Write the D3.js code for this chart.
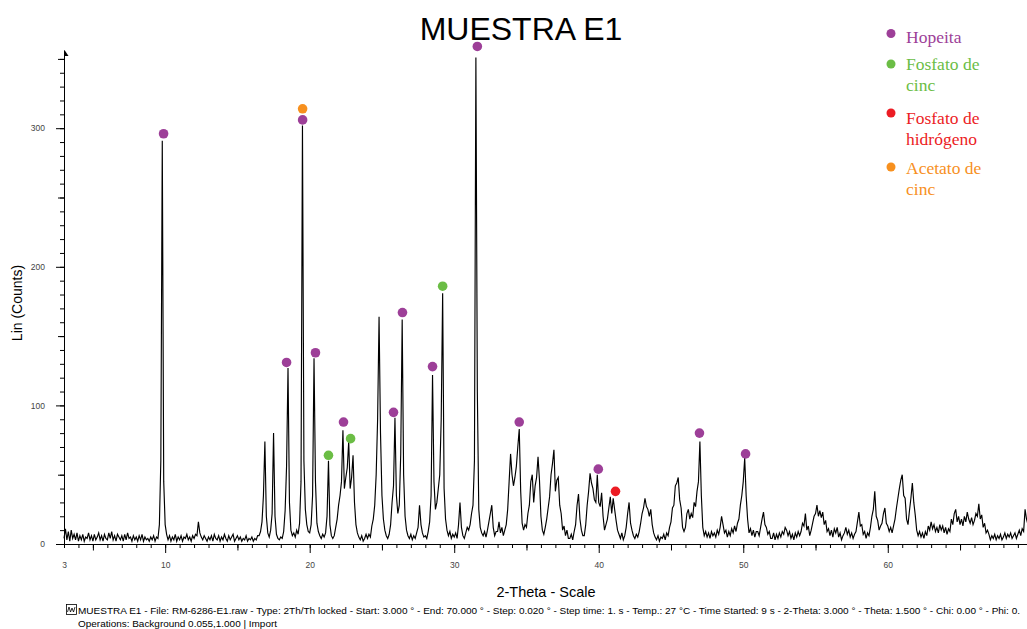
<!DOCTYPE html>
<html>
<head>
<meta charset="utf-8">
<script src="https://cdn.jsdelivr.net/npm/d3@7"></script>
<style>
  body { margin: 0; background: #fff; }
  svg { display: block; }
</style>
</head>
<body>
<div id="chart"></div>
<script>
// scan settings (2-Theta start and step of the counts array below)
var scanStart = 3.0;
var scanStep = 0.1;

// Lin (Counts), one row per degree 2-Theta
var counts = [
  4,11,3,9,2,10,4,7,3,8,        // 3
  2,6,3,7,2,5,4,8,3,6,          // 4
  2,7,3,5,8,3,6,2,7,4,          // 5
  3,8,4,9,3,6,2,7,5,3,          // 6
  6,2,7,3,8,4,5,2,6,3,          // 7
  5,2,6,3,7,2,5,3,4,2,          // 8
  5,3,6,2,5,4,14,60,291,45,     // 9
  14,7,3,6,2,5,3,7,2,5,         // 10
  3,6,2,5,4,7,3,5,2,6,          // 11
  4,7,6,16,8,5,3,6,4,2,         // 12
  5,3,6,2,7,4,3,6,2,5,          // 13
  3,7,4,2,6,3,5,7,2,4,          // 14
  6,3,5,2,4,3,6,2,4,3,          // 15
  5,2,4,3,6,6,9,16,35,74,       // 16
  20,8,5,10,22,80,20,7,4,3,     // 17
  5,4,9,24,56,127,30,10,6,8,    // 18
  5,10,7,15,45,302,60,25,14,9,  // 19
  8,14,35,134,45,15,9,6,4,7,    // 20
  5,8,20,60,14,6,4,6,12,18,     // 21
  28,35,45,82,40,48,55,74,40,48, // 22
  64,30,14,8,5,3,6,2,4,7,       // 23
  4,7,5,13,18,28,50,90,164,80,  // 24
  35,18,10,6,4,7,14,30,42,91,   // 25
  35,22,28,65,162,50,20,10,6,4, // 26
  7,3,6,4,8,12,28,14,8,5,       // 27
  6,4,9,16,35,122,45,25,30,40,  // 28
  50,90,181,40,18,10,6,9,4,7,   // 29
  5,8,4,14,30,12,6,4,8,12,      // 30
  10,14,22,28,60,351,110,25,12,8, // 31
  6,9,5,10,16,22,28,12,6,9,     // 32
  9,16,8,12,6,10,14,25,45,65,   // 33
  50,42,48,56,70,83,38,15,10,14, // 34
  12,22,28,45,50,30,42,48,63,46, // 35
  20,10,7,12,18,26,34,50,58,68, // 36
  38,46,48,28,22,10,13,6,10,4,  // 37
  4,7,3,9,14,28,36,18,10,6,     // 38
  6,14,28,38,51,44,40,32,30,50, // 39
  30,27,37,20,10,14,18,26,34,22, // 40
  33,25,17,10,7,4,8,3,6,12,     // 41
  22,30,15,10,6,4,7,5,9,15,     // 42
  22,26,33,27,25,20,25,14,8,5,  // 43
  3,6,2,5,4,7,3,8,6,12,         // 44
  16,26,28,42,44,48,32,26,12,9, // 45
  12,22,25,18,22,19,30,27,38,45, // 46
  74,35,12,6,9,5,8,4,9,6,       // 47
  8,5,10,7,12,20,14,8,10,5,     // 48
  9,6,11,8,13,9,15,18,28,35,    // 49
  45,62,35,18,8,11,6,10,5,9,    // 50
  9,6,12,18,23,14,12,7,9,4,     // 51
  4,8,3,7,4,8,5,9,7,12,         // 52
  10,6,9,4,7,3,8,5,9,6,         // 53
  9,15,13,22,10,13,6,10,15,20,  // 54
  22,28,20,24,19,23,14,17,9,11, // 55
  6,10,5,11,8,12,5,8,3,6,       // 56
  8,12,7,10,5,8,4,7,9,16,       // 57
  23,13,14,7,9,4,8,6,12,20,     // 58
  25,38,20,17,10,13,15,22,26,15, // 59
  13,9,12,8,13,18,26,33,40,46,  // 60
  50,35,33,18,14,24,33,44,30,21, // 61
  10,6,9,5,8,4,9,6,13,10,       // 62
  16,11,14,9,12,8,14,10,13,8,   // 63
  12,7,11,9,18,14,22,25,16,20,  // 64
  14,18,13,20,16,23,18,15,19,14, // 65
  17,22,20,29,18,21,12,15,8,10, // 66
  7,3,6,4,7,3,6,4,7,3,          // 67
  5,8,4,7,5,8,4,6,8,4,          // 68
  7,10,6,11,9,25,18,14,12,10,   // 69
  8                             // 70
];

// identified phases
var phaseNames = [["Hopeita"], ["Fosfato de", "cinc"], ["Fosfato de", "hidrógeno"], ["Acetato de", "cinc"]];
var phaseColors = ["#9d3f98", "#6bbd45", "#ec1c24", "#f7901e"];

// peak markers: phase index, 2-Theta, counts
var markerPhase  = [0, 0, 0, 3, 0, 1, 0, 1, 0, 0, 0, 1, 0, 0, 0, 2, 0, 0];
var markerTheta  = [9.89, 18.40, 19.51, 19.51, 20.40, 21.30, 22.34, 22.83, 25.80, 26.42, 28.50, 29.20, 31.60, 34.50, 39.97, 41.16, 46.97, 50.16];
var markerCounts = [296, 131, 306, 314, 138, 64, 88, 76, 95, 167, 128, 186, 359, 88, 54, 38, 80, 65];

// axis ticks
var xTickLabels = [3, 10, 20, 30, 40, 50, 60];
var yTickLabels = [0, 100, 200, 300];

var footerLine1 = "MUESTRA E1 - File: RM-6286-E1.raw - Type: 2Th/Th locked - Start: 3.000 ° - End: 70.000 ° - Step: 0.020 ° - Step time: 1. s - Temp.: 27 °C - Time Started: 9 s - 2-Theta: 3.000 ° - Theta: 1.500 ° - Chi: 0.00 ° - Phi: 0.";
var footerLine2 = "Operations: Background 0.055,1.000 | Import";

var svgWidth = 1027;
var svgHeight = 629;
var margin = { top: 50, left: 64 };
var width = 968.3;
var height = 494;

var scan = counts.map(function(c, i) {
  return { theta: scanStart + i * scanStep, counts: c };
});

var svg = d3.select("#chart")
  .append("svg")
  .attr("width", svgWidth)
  .attr("height", svgHeight);

var chartGroup = svg.append("g")
  .attr("transform", `translate(${margin.left}, ${margin.top})`);

var xScale = d3.scaleLinear().domain([3, 70]).range([0, width]);
var yScale = d3.scaleLinear().domain([0, height / 1.386]).range([height, 0]);

var sans = "Arial, 'Liberation Sans', sans-serif";

// x axis: minor (1), medium (5), major (10) ticks
function tidy(g) {
  g.select(".domain").remove();
  g.selectAll("line").attr("stroke", "#000");
}
chartGroup.append("g")
  .attr("transform", `translate(0, ${height})`)
  .call(d3.axisBottom(xScale).tickValues(d3.range(3, 71, 1)).tickSize(4).tickFormat(""))
  .call(tidy);
chartGroup.append("g")
  .attr("transform", `translate(0, ${height})`)
  .call(d3.axisBottom(xScale).tickValues(d3.range(5, 70, 10)).tickSize(6.5).tickFormat(""))
  .call(tidy);
chartGroup.append("g")
  .attr("transform", `translate(0, ${height})`)
  .call(d3.axisBottom(xScale).tickValues(d3.range(10, 70, 10)).tickSize(9).tickFormat(""))
  .call(tidy);
var xAxis = chartGroup.append("g")
  .attr("transform", `translate(0, ${height})`)
  .call(d3.axisBottom(xScale).tickValues(xTickLabels).tickSize(0).tickPadding(18).tickSizeOuter(0));
xAxis.select(".domain").attr("stroke", "#000");
xAxis.selectAll("text").attr("font-family", sans).attr("font-size", "8.5px").attr("fill", "#444");

// y axis: minor (10), medium (50), major (100) ticks
chartGroup.append("g")
  .call(d3.axisLeft(yScale).tickValues(d3.range(0, 351, 10)).tickSize(4).tickFormat(""))
  .call(tidy);
chartGroup.append("g")
  .call(d3.axisLeft(yScale).tickValues([50, 150, 250, 350]).tickSize(6).tickFormat(""))
  .call(tidy);
var yAxis = chartGroup.append("g")
  .call(d3.axisLeft(yScale).tickValues(yTickLabels).tickSize(8).tickPadding(11).tickSizeOuter(0));
yAxis.select(".domain").attr("stroke", "#000");
yAxis.selectAll("line").attr("stroke", "#000");
yAxis.selectAll("text").attr("font-family", sans).attr("font-size", "8.5px").attr("fill", "#444");

// little arrow at the top of the y axis
chartGroup.append("path")
  .attr("d", "M0.5,0 L4.5,6 L0.5,6 Z")
  .attr("fill", "#000");

// the scan
chartGroup.append("path")
  .datum(scan)
  .attr("fill", "none")
  .attr("stroke", "#000")
  .attr("stroke-width", 1.15)
  .attr("stroke-linejoin", "miter")
  .attr("d", d3.line()
    .x(d => xScale(d.theta))
    .y(d => yScale(d.counts)));

// peak markers
chartGroup.selectAll("circle.marker")
  .data(markerTheta)
  .enter()
  .append("circle")
  .attr("class", "marker")
  .attr("cx", d => xScale(d))
  .attr("cy", (d, i) => yScale(markerCounts[i]))
  .attr("r", 4.8)
  .attr("fill", (d, i) => phaseColors[markerPhase[i]]);

// title and axis labels
svg.append("text")
  .attr("x", 521).attr("y", 40)
  .attr("text-anchor", "middle")
  .attr("font-family", sans).attr("font-size", "32px")
  .text("MUESTRA E1");

svg.append("text")
  .attr("transform", "translate(22, 303) rotate(-90)")
  .attr("text-anchor", "middle")
  .attr("font-family", sans).attr("font-size", "14px")
  .text("Lin (Counts)");

svg.append("text")
  .attr("x", 546).attr("y", 597)
  .attr("text-anchor", "middle")
  .attr("font-family", sans).attr("font-size", "14.5px")
  .text("2-Theta - Scale");

// legend
var legendDotY = [33.5, 64, 113, 167];
var legendTextY = [42.5, 70, 124, 173.5];
var legend = svg.selectAll("g.legend")
  .data(phaseNames)
  .enter()
  .append("g")
  .attr("class", "legend");
legend.append("circle")
  .attr("cx", 891)
  .attr("cy", (d, i) => legendDotY[i])
  .attr("r", 4.5)
  .attr("fill", (d, i) => phaseColors[i]);
legend.each(function(lines, i) {
  var t = d3.select(this).append("text")
    .attr("x", 906)
    .attr("y", legendTextY[i])
    .attr("font-family", "'Liberation Serif', 'Times New Roman', serif")
    .attr("font-size", "17.5px")
    .attr("fill", phaseColors[i]);
  lines.forEach(function(line, j) {
    t.append("tspan").attr("x", 906).attr("dy", j === 0 ? 0 : 21).text(line);
  });
});

// footer with the scan info
var icon = svg.append("g").attr("transform", "translate(66, 604)");
icon.append("rect").attr("x", 0.5).attr("y", 0.5).attr("width", 10).attr("height", 10)
  .attr("fill", "none").attr("stroke", "#000").attr("stroke-width", 0.8);
icon.append("path").attr("d", "M1.5,8 L3,3 L4.5,8 L6,4 L7.5,8 L9,3")
  .attr("fill", "none").attr("stroke", "#000").attr("stroke-width", 0.8);

svg.append("text")
  .attr("x", 78).attr("y", 614)
  .attr("font-family", sans).attr("font-size", "9px")
  .attr("textLength", 942).attr("lengthAdjust", "spacingAndGlyphs")
  .text(footerLine1);
svg.append("text")
  .attr("x", 78).attr("y", 627)
  .attr("font-family", sans).attr("font-size", "9px")
  .attr("textLength", 199).attr("lengthAdjust", "spacingAndGlyphs")
  .text(footerLine2);
</script>
</body>
</html>
